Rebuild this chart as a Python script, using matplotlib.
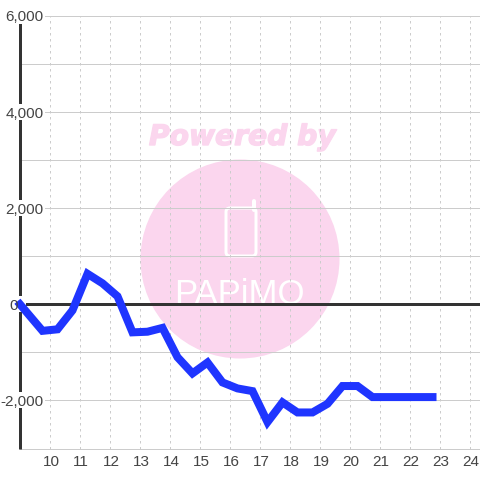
import matplotlib
matplotlib.use("Agg")
import matplotlib.pyplot as plt
import matplotlib.patheffects as pe
from matplotlib.patches import Circle, FancyBboxPatch, Rectangle
from matplotlib.lines import Line2D
from matplotlib.transforms import Affine2D

hours = [9, 9.75, 10.25, 10.75, 11.25, 11.75, 12.25, 12.75, 13.25, 13.75, 14.25, 14.75,
         15.25, 15.75, 16.25, 16.75, 17.25, 17.75, 18.25, 18.75, 19.25, 19.75, 20.25,
         20.75, 21.25, 21.75, 22.25, 22.75]
values = [0, -552, -520, -125, 635, 437, 167, -583, -570, -490, -1100, -1437,
          -1210, -1625, -1750, -1806, -2450, -2040, -2250, -2250, -2070, -1700, -1700,
          -1930, -1930, -1930, -1930, -1930]
x_ticks = list(range(10, 25))
y_grid = list(range(-3000, 7000, 1000))
y_labels = {6000: "6,000", 4000: "4,000", 2000: "2,000", 0: "0", -2000: "-2,000"}

PINK = "#fbd6ee"
DARK = "#333333"
GRID = "#cccccc"
px = 0.72
W = 480.0

fig = plt.figure(figsize=(4.8, 4.8), dpi=100, facecolor="white")
ax = fig.add_axes([20 / W, 31.5 / W, 460 / W, 432.5 / W], facecolor="none")
ax.set_xlim(9, 9 + 460 / 30)
ax.set_ylim(-3000, 6000)
pix = Affine2D().scale(1, -1).translate(0, W)  # reference-style top-left pixels

# watermark
fig.add_artist(Circle((240, 259), 99.5, transform=pix, fc=PINK, ec="none", zorder=-5))
fig.add_artist(FancyBboxPatch((226, 208), 30, 48, boxstyle="round,pad=0,rounding_size=4",
                              transform=pix, fc="none", ec="white", lw=3 * px, zorder=-4))
fig.add_artist(Line2D([253.5, 253.5], [201, 210], transform=pix, color="white", lw=4 * px,
                      solid_capstyle="round", zorder=-4))
fig.text(239, 304, "PAPiMO", transform=pix, family="Liberation Sans", fontsize=25,
         color="white", ha="center", va="baseline", zorder=-4)
fig.text(242.5, 145, "Powered by", transform=pix, family="DejaVu Sans", fontsize=20.3,
         fontweight="bold", fontstyle="oblique", color=PINK, ha="center", va="baseline", zorder=-4,
         path_effects=[pe.withStroke(linewidth=1.0, foreground=PINK)])

# axes and grid
for s in ("top", "right", "bottom"):
    ax.spines[s].set_visible(False)
ax.spines["left"].set_color(DARK)
ax.spines["left"].set_linewidth(3 * px)
ax.spines["left"].set_capstyle("butt")
ax.tick_params(length=0, labelleft=False, labelbottom=False)
ax.set_xticks(x_ticks)
ax.set_yticks(y_grid)
ax.set_axisbelow(True)
ax.grid(axis="y", color=GRID, lw=1 * px)
ax.grid(axis="x", color=GRID, lw=1 * px, linestyle=(0, (2.5, 3.5)))
for line in ax.get_ygridlines() + ax.get_xgridlines():
    line.set_clip_on(False)
ax.axhline(0, color=DARK, lw=3 * px, zorder=2.4)

# labels
font = dict(family="Liberation Sans", fontsize=11, color="#444444", zorder=6)
for v, s in y_labels.items():
    right = 43.5 if v else 17.5
    end = 45 if v else 26
    ty = ax.transData.transform((0, v))[1]
    fig.add_artist(Rectangle((0, ty - 8), end, 16, transform=None, fc="white", ec="none", zorder=3))
    fig.text(right, ty, s, transform=None, ha="right", va="center_baseline", zorder=6,
             family=font["family"], fontsize=font["fontsize"], color=font["color"])
for t in x_ticks:
    ax.annotate(str(t), (t, 0), xycoords=ax.get_xaxis_transform(), xytext=(0.7, -9.4),
                textcoords="offset points", ha="center", va="center", annotation_clip=False, **font)

# series
main = Line2D(hours, values, transform=ax.transData, color="#1f35ff", lw=8 * px,
              solid_joinstyle="miter", solid_capstyle="projecting", zorder=5)
fig.add_artist(main)

fig.savefig("out.png", dpi=100)
